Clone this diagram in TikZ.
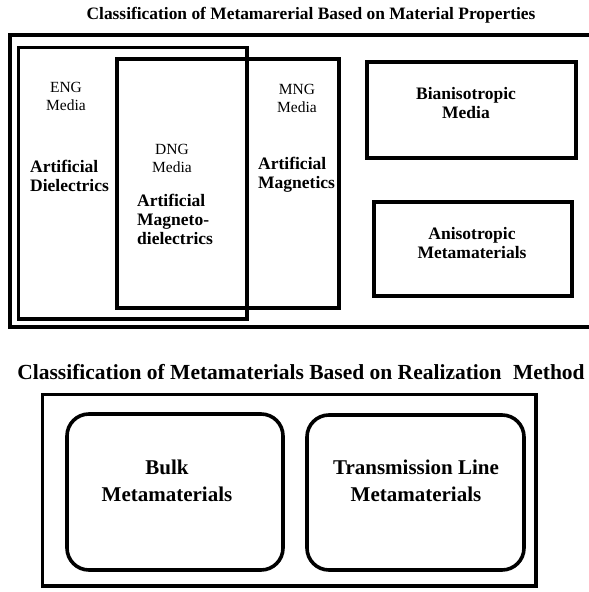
\documentclass[tikz,border=0pt]{standalone}
\usepackage{fontspec}
\setmainfont{Liberation Serif}
\usepackage{tikz}
\usetikzlibrary{positioning}

\begin{document}
\begin{tikzpicture}[x=1pt,y=-1pt,line join=miter,
        frame/.style={draw, line width=3.6pt, inner sep=0pt},
        rframe/.style={frame, rounded corners=22pt},
        ttl/.style={font=\bfseries\fontsize{17.4}{20}\selectfont},
        bigttl/.style={font=\bfseries\fontsize{21.5}{25}\selectfont},
        kind/.style={font=\bfseries\fontsize{17.5}{19}\selectfont, align=left, inner sep=0pt},
        medium/.style={font=\fontsize{15.5}{18}\selectfont, align=center, inner sep=0pt},
        bulk/.style={font=\bfseries\fontsize{21}{27}\selectfont, align=center, inner sep=0pt}]
    \useasboundingbox (0,0) rectangle (589,592);
    % material properties
    \node[ttl] (proptitle) at (311,15) {Classification of Metamarerial Based on Material Properties};
    \node[frame, minimum width=590, minimum height=292] (propframe) at (305,181) {};
    \node[frame, minimum width=228.5, minimum height=271.5] (dielbox) at (132.75,183.25) {};
    \node[frame, minimum width=222, minimum height=249] (magbox) at (228,183.5) {};
    \node[frame, minimum width=209, minimum height=96] (bianibox) at (471.5,110) {};
    \node[frame, minimum width=198, minimum height=94] (anisobox) at (473,249) {};
    \node[medium] (eng) at (66,96) {ENG\\Media};
    \node[medium] (dng) at (172,158) {DNG\\Media};
    \node[medium] (mng) at (297,98) {MNG\\Media};
    \node[kind, anchor=west] (dielec) at (30,176) {Artificial\\Dielectrics};
    \node[kind, anchor=west] (magdiel) at (137,219) {Artificial\\Magneto-\\dielectrics};
    \node[kind, anchor=west] (magnet) at (258,175) {Artificial\\Magnetics};
    \node[kind, align=center] (biani) at (466,103) {Bianisotropic\\Media};
    \node[kind, align=center] (aniso) at (472,243) {Anisotropic\\Metamaterials};
    % realization method
    \node[bigttl] (realtitle) at (301,372) {Classification of Metamaterials Based on Realization\hspace{6pt} Method};
    \node[frame, minimum width=493.5, minimum height=191.5] (realframe) at (289.25,490.25) {};
    \node[rframe, minimum width=216, minimum height=156] (bulkbox) at (175,492) {};
    \node[rframe, minimum width=217, minimum height=155] (tlbox) at (415.5,492.5) {};
    \node[bulk] (bulktxt) at (167,481) {Bulk\\Metamaterials};
    \node[bulk] (tltxt) at (416,481) {Transmission Line\\Metamaterials};
\end{tikzpicture}
\end{document}
